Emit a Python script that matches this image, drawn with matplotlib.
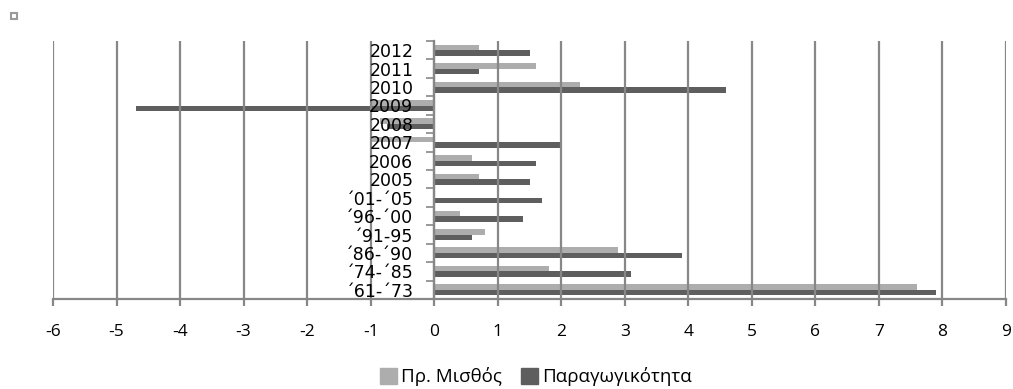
import matplotlib
matplotlib.use("Agg")
import matplotlib.pyplot as plt
from matplotlib.patches import Rectangle
import numpy as np

# Periods / years, bottom to top
categories = ["´61-´73", "´74-´85", "´86-´90", "´91-95", "´96-´00", "´01-´05",
              "2005", "2006", "2007", "2008", "2009", "2010", "2011", "2012"]
wages = [7.6, 1.8, 2.9, 0.8, 0.4, 0.0, 0.7, 0.6, -1.0, -0.85, -1.0, 2.3, 1.6, 0.7]
productivity = [7.9, 3.1, 3.9, 0.6, 1.4, 1.7, 1.5, 1.6, 2.0, -0.75, -4.7, 4.6, 0.7, 1.5]
series_names = ["Πρ. Μισθός", "Παραγωγικότητα"]
x_ticks = list(range(-6, 10))

light = "#ADADAD"
dark = "#5E5E5E"
axis_grey = "#878787"

W, H = 1013, 389
fig = plt.figure(figsize=(W / 100, H / 100), dpi=100)
ax = fig.add_axes([53 / W, 1 - 299 / H, (1006 - 53) / W, (299 - 41) / H])

y = np.arange(len(categories))
bh = 0.3
ax.barh(y + bh / 2, wages, height=bh, color=light, zorder=1)
ax.barh(y - bh / 2, productivity, height=bh, color=dark, zorder=1)

ax.set_xlim(-6, 9)
ax.set_ylim(-0.5, len(categories) - 0.5)

# vertical gridlines
ax.set_xticks(x_ticks)
ax.set_xticklabels([str(v) for v in x_ticks], fontfamily="Open Sans", fontsize=12.5)
ax.grid(axis="x", color=axis_grey, linewidth=1.6)
ax.tick_params(axis="x", direction="out", length=5, width=1.6, color=axis_grey, pad=13)

# category axis crosses at zero
ax.spines["left"].set_position(("data", 0))
for s in ("top", "right"):
    ax.spines[s].set_visible(False)
ax.spines["left"].set_color(axis_grey)
ax.spines["left"].set_linewidth(1.6)
ax.spines["bottom"].set_color(axis_grey)
ax.spines["bottom"].set_linewidth(1.6)

ax.set_yticks(np.arange(len(categories) + 1) - 0.5)
ax.set_yticklabels([])
ax.tick_params(axis="y", which="major", direction="out", length=6, width=1.2, color=axis_grey)
ax.set_yticks(y, minor=True)
ax.set_yticklabels(categories, minor=True, fontfamily="DejaVu Sans", fontsize=12.5)
ax.tick_params(axis="y", which="minor", length=0, pad=15)

# legend
handles = [Rectangle((0, 0), 1, 1, color=light), Rectangle((0, 0), 1, 1, color=dark)]
fig.legend(handles, series_names, loc="center", bbox_to_anchor=(536 / W, 1 - 377 / H),
           ncol=2, frameon=False, prop={"family": "Open Sans", "size": 13.5},
           handlelength=0.9, handleheight=0.9, handletextpad=0.25, columnspacing=1.0)

# small marker at the top-left corner
fig.patches.append(Rectangle((11 / W, 1 - 19 / H), 6 / W, 6 / H, transform=fig.transFigure,
                             facecolor="white", edgecolor="#9A9A9A", linewidth=1.5))

fig.savefig("out.png", dpi=100)
